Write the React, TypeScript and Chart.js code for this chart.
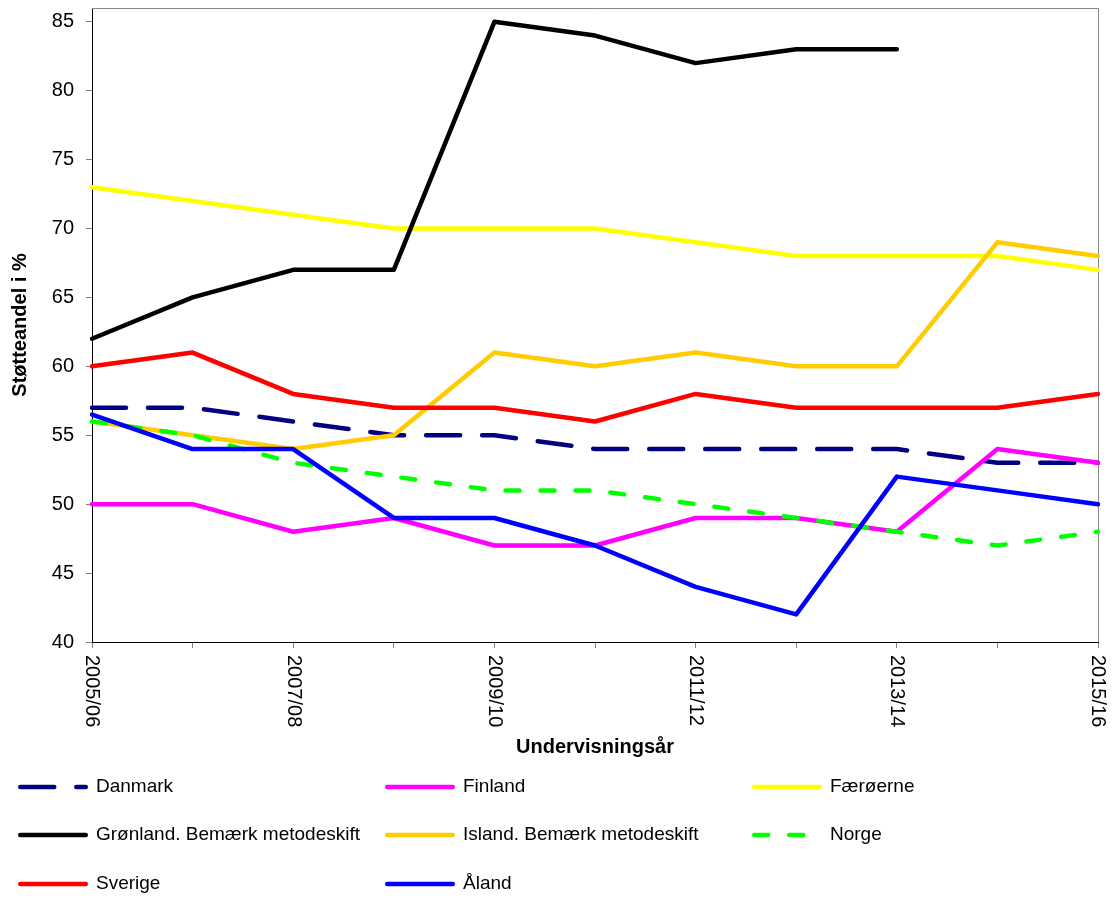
import React, { useEffect, useRef } from "react";
import { Chart, registerables } from "chart.js";

Chart.register(...registerables);

const categories = [
  "2005/06", "2006/07", "2007/08", "2008/09", "2009/10", "2010/11",
  "2011/12", "2012/13", "2013/14", "2014/15", "2015/16",
];
const shownLabels = ["2005/06", "2007/08", "2009/10", "2011/12", "2013/14", "2015/16"];
const yTicks = [40, 45, 50, 55, 60, 65, 70, 75, 80, 85];

const danmark = [57, 57, 56, 55, 55, 54, 54, 54, 54, 53, 53];
const finland = [50, 50, 48, 49, 47, 47, 49, 49, 48, 54, 53];
const faeroerne = [73, 72, 71, 70, 70, 70, 69, 68, 68, 68, 67];
const groenland = [62, 65, 67, 67, 85, 84, 82, 83, 83, null, null];
const island = [56, 55, 54, 55, 61, 60, 61, 60, 60, 69, 68];
const norge = [56, 55, 53, 52, 51, 51, 50, 49, 48, 47, 48];
const sverige = [60, 61, 58, 57, 57, 56, 58, 57, 57, 57, 58];
const aaland = [56.5, 54, 54, 49, 49, 47, 44, 42, 52, 51, 50];

const FONT = '"Liberation Sans", Arial, sans-serif';

export default function App() {
  const ref = useRef<HTMLCanvasElement>(null);

  useEffect(() => {
    if (!ref.current) return;

    const series = [
      { label: "Danmark", data: danmark, color: "#000080", dash: [34, 22] },
      { label: "Finland", data: finland, color: "#FF00FF", dash: [] },
      { label: "Færøerne", data: faeroerne, color: "#FFFF00", dash: [] },
      { label: "Grønland. Bemærk metodeskift", data: groenland, color: "#000000", dash: [] },
      { label: "Island. Bemærk metodeskift", data: island, color: "#FFCC00", dash: [] },
      { label: "Norge", data: norge, color: "#00FF00", dash: [14, 21] },
      { label: "Sverige", data: sverige, color: "#FF0000", dash: [] },
      { label: "Åland", data: aaland, color: "#0000FF", dash: [] },
    ];

    const legendCols = [18, 385, 752];
    const legendRows = [787, 835, 884];

    const framePlugin = {
      id: "frame",
      beforeDatasetsDraw(chart: any) {
        const { ctx, chartArea } = chart;
        ctx.save();
        ctx.strokeStyle = "#888888";
        ctx.lineWidth = 1;
        ctx.beginPath();
        ctx.moveTo(chartArea.left, Math.round(chartArea.top) + 0.5);
        ctx.lineTo(Math.round(chartArea.right) + 0.5, Math.round(chartArea.top) + 0.5);
        ctx.lineTo(Math.round(chartArea.right) + 0.5, chartArea.bottom);
        ctx.stroke();
        ctx.restore();
      },
    };

    const xLabelPlugin = {
      id: "xLabels",
      afterDraw(chart: any) {
        const { ctx } = chart;
        const xs = chart.scales.x;
        ctx.save();
        ctx.fillStyle = "#000";
        ctx.font = `20px ${FONT}`;
        ctx.textAlign = "left";
        ctx.textBaseline = "middle";
        categories.forEach((c, i) => {
          if (!shownLabels.includes(c)) return;
          const px = xs.getPixelForValue(i);
          ctx.save();
          ctx.translate(px, xs.top + 13);
          ctx.rotate(Math.PI / 2);
          ctx.fillText(c, 0, 0);
          ctx.restore();
        });
        ctx.restore();
      },
    };

    const legendPlugin = {
      id: "gridLegend",
      afterDraw(chart: any) {
        const { ctx } = chart;
        chart.data.datasets.forEach((ds: any, i: number) => {
          const x = legendCols[i % 3];
          const y = legendRows[Math.floor(i / 3)];
          ctx.save();
          ctx.strokeStyle = ds.borderColor;
          ctx.lineWidth = 4.5;
          ctx.lineCap = "round";
          ctx.setLineDash(ds.borderDash || []);
          ctx.beginPath();
          ctx.moveTo(x + 2.25, y);
          ctx.lineTo(x + 67.75, y);
          ctx.stroke();
          ctx.setLineDash([]);
          ctx.fillStyle = "#000";
          ctx.font = `19px ${FONT}`;
          ctx.textAlign = "left";
          ctx.textBaseline = "middle";
          ctx.fillText(ds.label, x + 78, y);
          ctx.restore();
        });
      },
    };

    const chart = new Chart(ref.current, {
      type: "line",
      data: {
        labels: categories,
        datasets: series.map((s, i) => ({
          label: s.label,
          data: s.data,
          borderColor: s.color,
          backgroundColor: s.color,
          borderWidth: 4.5,
          borderDash: s.dash,
          borderCapStyle: "round",
          borderJoinStyle: "round",
          pointRadius: 0,
          pointHoverRadius: 0,
          fill: false,
          tension: 0,
          order: series.length - i,
        })),
      },
      options: {
        animation: false,
        responsive: true,
        maintainAspectRatio: false,
        layout: { padding: { top: 8, right: 14, left: 0, bottom: 126 } },
        plugins: {
          legend: { display: false },
          tooltip: { enabled: false },
        },
        scales: {
          x: {
            type: "category",
            offset: false,
            grid: {
              drawOnChartArea: false,
              drawTicks: true,
              tickLength: 6,
              color: "#808080",
            },
            border: { color: "#000000", width: 1 },
            ticks: { display: false, autoSkip: false },
            title: {
              display: true,
              text: "Undervisningsår",
              color: "#000",
              font: { family: FONT, size: 20, weight: "bold" },
              padding: { top: 0, bottom: 13 },
            },
            afterFit(scale: any) {
              scale.height = 130;
              scale.paddingLeft = 0;
              scale.paddingRight = 0;
            },
          },
          y: {
            min: 40,
            max: 86,
            grid: {
              drawOnChartArea: false,
              drawTicks: true,
              tickLength: 6,
              color: "#808080",
            },
            border: { color: "#000000", width: 1 },
            ticks: {
              color: "#000",
              font: { family: FONT, size: 20 },
              padding: 12,
            },
            afterBuildTicks(scale: any) {
              scale.ticks = yTicks.map((v) => ({ value: v }));
            },
            title: {
              display: true,
              text: "Støtteandel i %",
              color: "#000",
              font: { family: FONT, size: 20, weight: "bold" },
              padding: { top: 8, bottom: 0 },
            },
            afterFit(scale: any) {
              scale.width = 92;
              scale.paddingTop = 0;
              scale.paddingBottom = 0;
            },
          },
        },
      } as any,
      plugins: [framePlugin, xLabelPlugin, legendPlugin],
    });

    return () => chart.destroy();
  }, []);

  return (
    <div style={{ position: "absolute", left: 0, top: 0, width: 1112, height: 898, background: "#fff" }}>
      <canvas ref={ref} />
    </div>
  );
}
